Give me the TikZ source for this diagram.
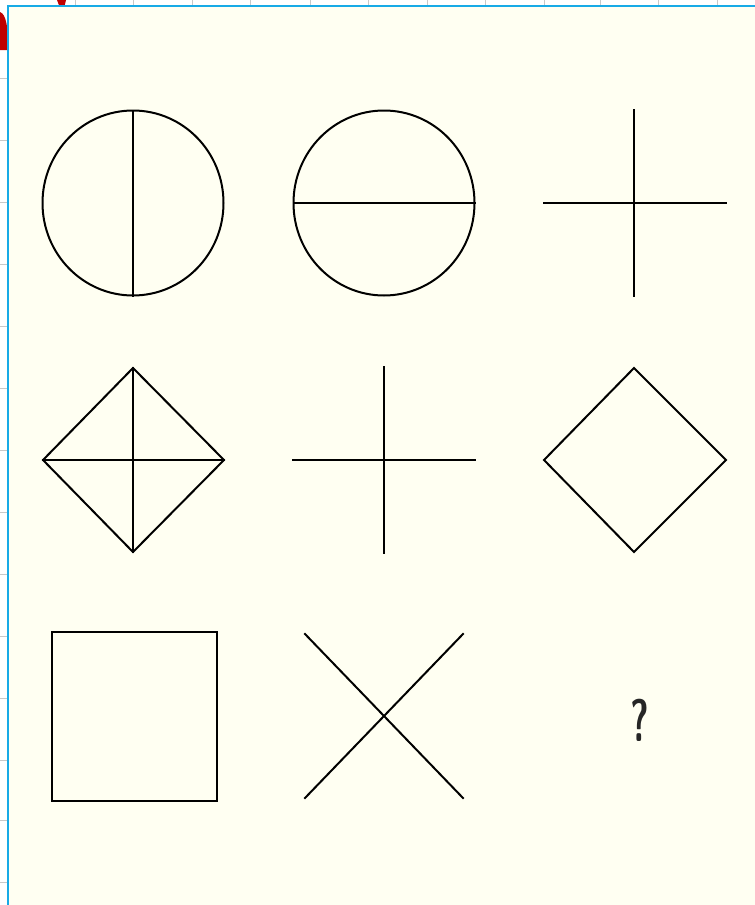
\documentclass[tikz,border=0pt]{standalone}
\usepackage{xcolor}
\definecolor{panelCream}{RGB}{255,255,242}
\definecolor{panelBlue}{RGB}{24,170,230}
\definecolor{sheetGrid}{RGB}{200,200,200}
\definecolor{markRed}{RGB}{192,0,0}
\usepackage{tikz}
\tikzset{
  fig line/.style={draw=black, line width=2pt, line cap=rect},
  sheet grid/.style={draw=sheetGrid, line width=1pt},
  quest mark/.style={font=\fontsize{60}{60}\selectfont\sffamily\bfseries, text=black!85, inner sep=0pt, xscale=0.6},
}

\begin{document}
\begin{tikzpicture}[x=1pt, y=-1pt]
  \useasboundingbox (0,0) rectangle (755,905);
  \fill[white] (0,0) rectangle (755,905);
  % sheet grid round the panel
  \foreach \gx in {75,133,192,250,310,368,427,485,544,600,658,717}
    \draw[sheet grid] (\gx,0) -- (\gx,7);
  \foreach \gy in {78,140,202,264,326,388,450,512,574,636,698,760,820,882}
    \draw[sheet grid] (0,\gy) -- (8,\gy);
  % red marks
  \fill[markRed] (0,12) .. controls (6,14) and (9,28) .. (7,50) -- (0,50) -- cycle;
  \fill[markRed] (57,0) -- (66,0) -- (64,8) -- (60,8) -- cycle;
  % panel
  \fill[panelCream] (8,6) rectangle (755,905);
  \draw[panelBlue, line width=2.5pt] (8,905) -- (8,6) -- (755,6);
  % row 1
  \draw[fig line] (133,203) circle[x radius=90.5, y radius=92.5];
  \draw[fig line] (133,111) -- (133,296);
  \draw[fig line] (384,203) circle[x radius=90.5, y radius=92.5];
  \draw[fig line] (294,203) -- (475,203);
  \draw[fig line] (634,110) -- (634,296);
  \draw[fig line] (544,203) -- (726,203);
  % row 2
  \draw[fig line] (43,460) -- (133,368) -- (224,460) -- (133,552) -- cycle;
  \draw[fig line] (133,368) -- (133,552);
  \draw[fig line] (43,460) -- (224,460);
  \draw[fig line] (384,367) -- (384,553);
  \draw[fig line] (293,460) -- (475,460);
  \draw[fig line] (544,460) -- (634,368) -- (726,460) -- (634,552) -- cycle;
  % row 3
  \draw[fig line] (52,632) rectangle (217,801);
  \draw[fig line] (305,634) -- (463,798);
  \draw[fig line] (305,798) -- (463,634);
  \node[quest mark] (quest) at (640,720) {?};
\end{tikzpicture}
\end{document}
